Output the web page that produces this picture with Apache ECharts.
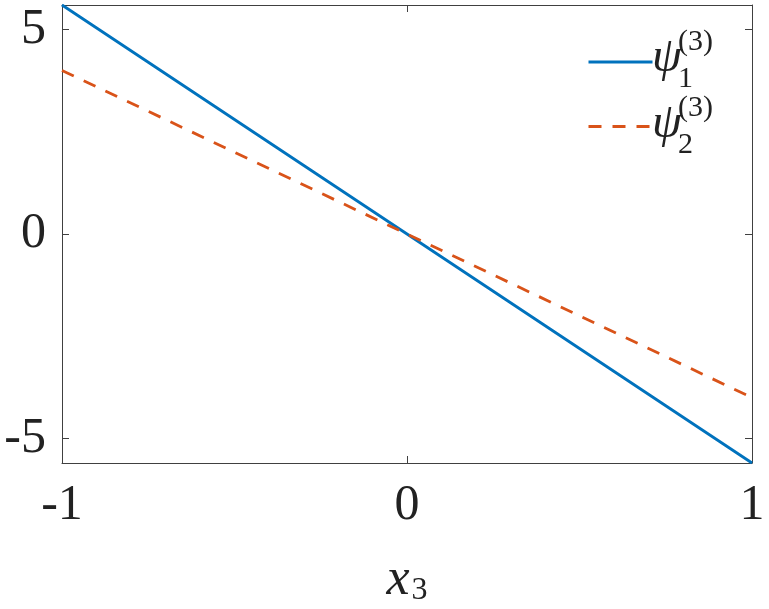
<!DOCTYPE html>
<html>
<head>
<meta charset="utf-8">
<script src="https://cdn.jsdelivr.net/npm/echarts@6/dist/echarts.min.js"></script>
<style>
  html, body { margin: 0; padding: 0; background: #fff; }
  #main { width: 769px; height: 609px; }
</style>
</head>
<body>
<div id="main"></div>
<script>
	// data
	var xVals = [-1, 0, 1];
	var psi1 = [5.6, 0, -5.6];
	var psi2 = [4, 0, -4];
	var yTicks = [-5, 0, 5];
	var xTicks = [-1, 0, 1];
	var yMin = -5.6, yMax = 5.6;

	var serif = "'Liberation Serif', 'DejaVu Serif', serif";
	var axisCol = '#404040';

	function pairs(xs, ys) {
		var out = [];
		for (var i = 0; i < xs.length; i++) out.push([xs[i], ys[i]]);
		return out;
	}

	var chart = echarts.init(document.getElementById('main'));

	var option = {
		animation: false,
		backgroundColor: '#fff',
		grid: { left: 62, top: 5, right: 17, bottom: 146, containLabel: false, outerBoundsMode: 'none' },
		xAxis: [{
			type: 'value', min: -1, max: 1, interval: 1,
			axisLine: { show: true, onZero: false, lineStyle: { color: axisCol, width: 1 } },
			axisTick: { show: true, inside: true, length: 7, customValues: xTicks, lineStyle: { color: axisCol } },
			axisLabel: { customValues: xTicks, margin: 18, color: '#222', fontFamily: serif, fontSize: 50,
				formatter: function (v) { return String(v); } },
			splitLine: { show: false },
			name: '{x|x}{s|3}',
			nameLocation: 'middle',
			nameGap: 90,
			nameTextStyle: {
				rich: {
					x: { fontFamily: serif, fontStyle: 'italic', fontSize: 52, color: '#222' },
					s: { fontFamily: serif, fontSize: 32, color: '#222', padding: [22, 0, 0, 2] }
				}
			}
		}, {
			type: 'value', min: -1, max: 1, interval: 1, position: 'top',
			axisLine: { show: true, onZero: false, lineStyle: { color: axisCol, width: 1 } },
			axisTick: { show: true, inside: true, length: 7, customValues: xTicks, lineStyle: { color: axisCol } },
			axisLabel: { show: false },
			splitLine: { show: false }
		}],
		yAxis: [{
			type: 'value', min: yMin, max: yMax,
			axisLine: { show: true, onZero: false, lineStyle: { color: axisCol, width: 1 } },
			axisTick: { show: true, inside: true, length: 7, customValues: yTicks, lineStyle: { color: axisCol } },
			axisLabel: { customValues: yTicks, margin: 16, color: '#222', fontFamily: serif, fontSize: 50,
				formatter: function (v) { return String(v); } },
			splitLine: { show: false }
		}, {
			type: 'value', min: yMin, max: yMax, position: 'right',
			axisLine: { show: true, onZero: false, lineStyle: { color: axisCol, width: 1 } },
			axisTick: { show: true, inside: true, length: 7, customValues: yTicks, lineStyle: { color: axisCol } },
			axisLabel: { show: false },
			splitLine: { show: false }
		}],
		legend: {
			orient: 'vertical',
			left: 582, top: 50,
			itemWidth: 64, itemHeight: 14, itemGap: 52,
			itemStyle: { opacity: 0 },
			lineStyle: { width: 3 },
			formatter: function () { return ''; },
			textStyle: { fontSize: 10 },
			data: ['psi1', 'psi2']
		},
		series: [{
			name: 'psi1', type: 'line', symbol: 'none',
			data: pairs(xVals, psi1),
			lineStyle: { color: '#0072BD', width: 2.8 },
			itemStyle: { color: '#0072BD' }
		}, {
			name: 'psi2', type: 'line', symbol: 'none',
			data: pairs(xVals, psi2),
			lineStyle: { color: '#D95319', width: 2.8, type: [13, 11] },
			itemStyle: { color: '#D95319' }
		}],
		graphic: [
			// legend labels: psi with stacked sub/superscripts
			{ type: 'text', left: 652, top: 34, style: { text: 'ψ', font: 'italic 48px ' + serif, fill: '#222' } },
			{ type: 'text', left: 678, top: 27, style: { text: '(3)', font: '30px ' + serif, fill: '#222' } },
			{ type: 'text', left: 678, top: 64, style: { text: '1', font: '30px ' + serif, fill: '#222' } },
			{ type: 'text', left: 652, top: 100, style: { text: 'ψ', font: 'italic 48px ' + serif, fill: '#222' } },
			{ type: 'text', left: 678, top: 93, style: { text: '(3)', font: '30px ' + serif, fill: '#222' } },
			{ type: 'text', left: 678, top: 130, style: { text: '2', font: '30px ' + serif, fill: '#222' } }
		]
	};

	chart.setOption(option);
</script>
</body>
</html>
